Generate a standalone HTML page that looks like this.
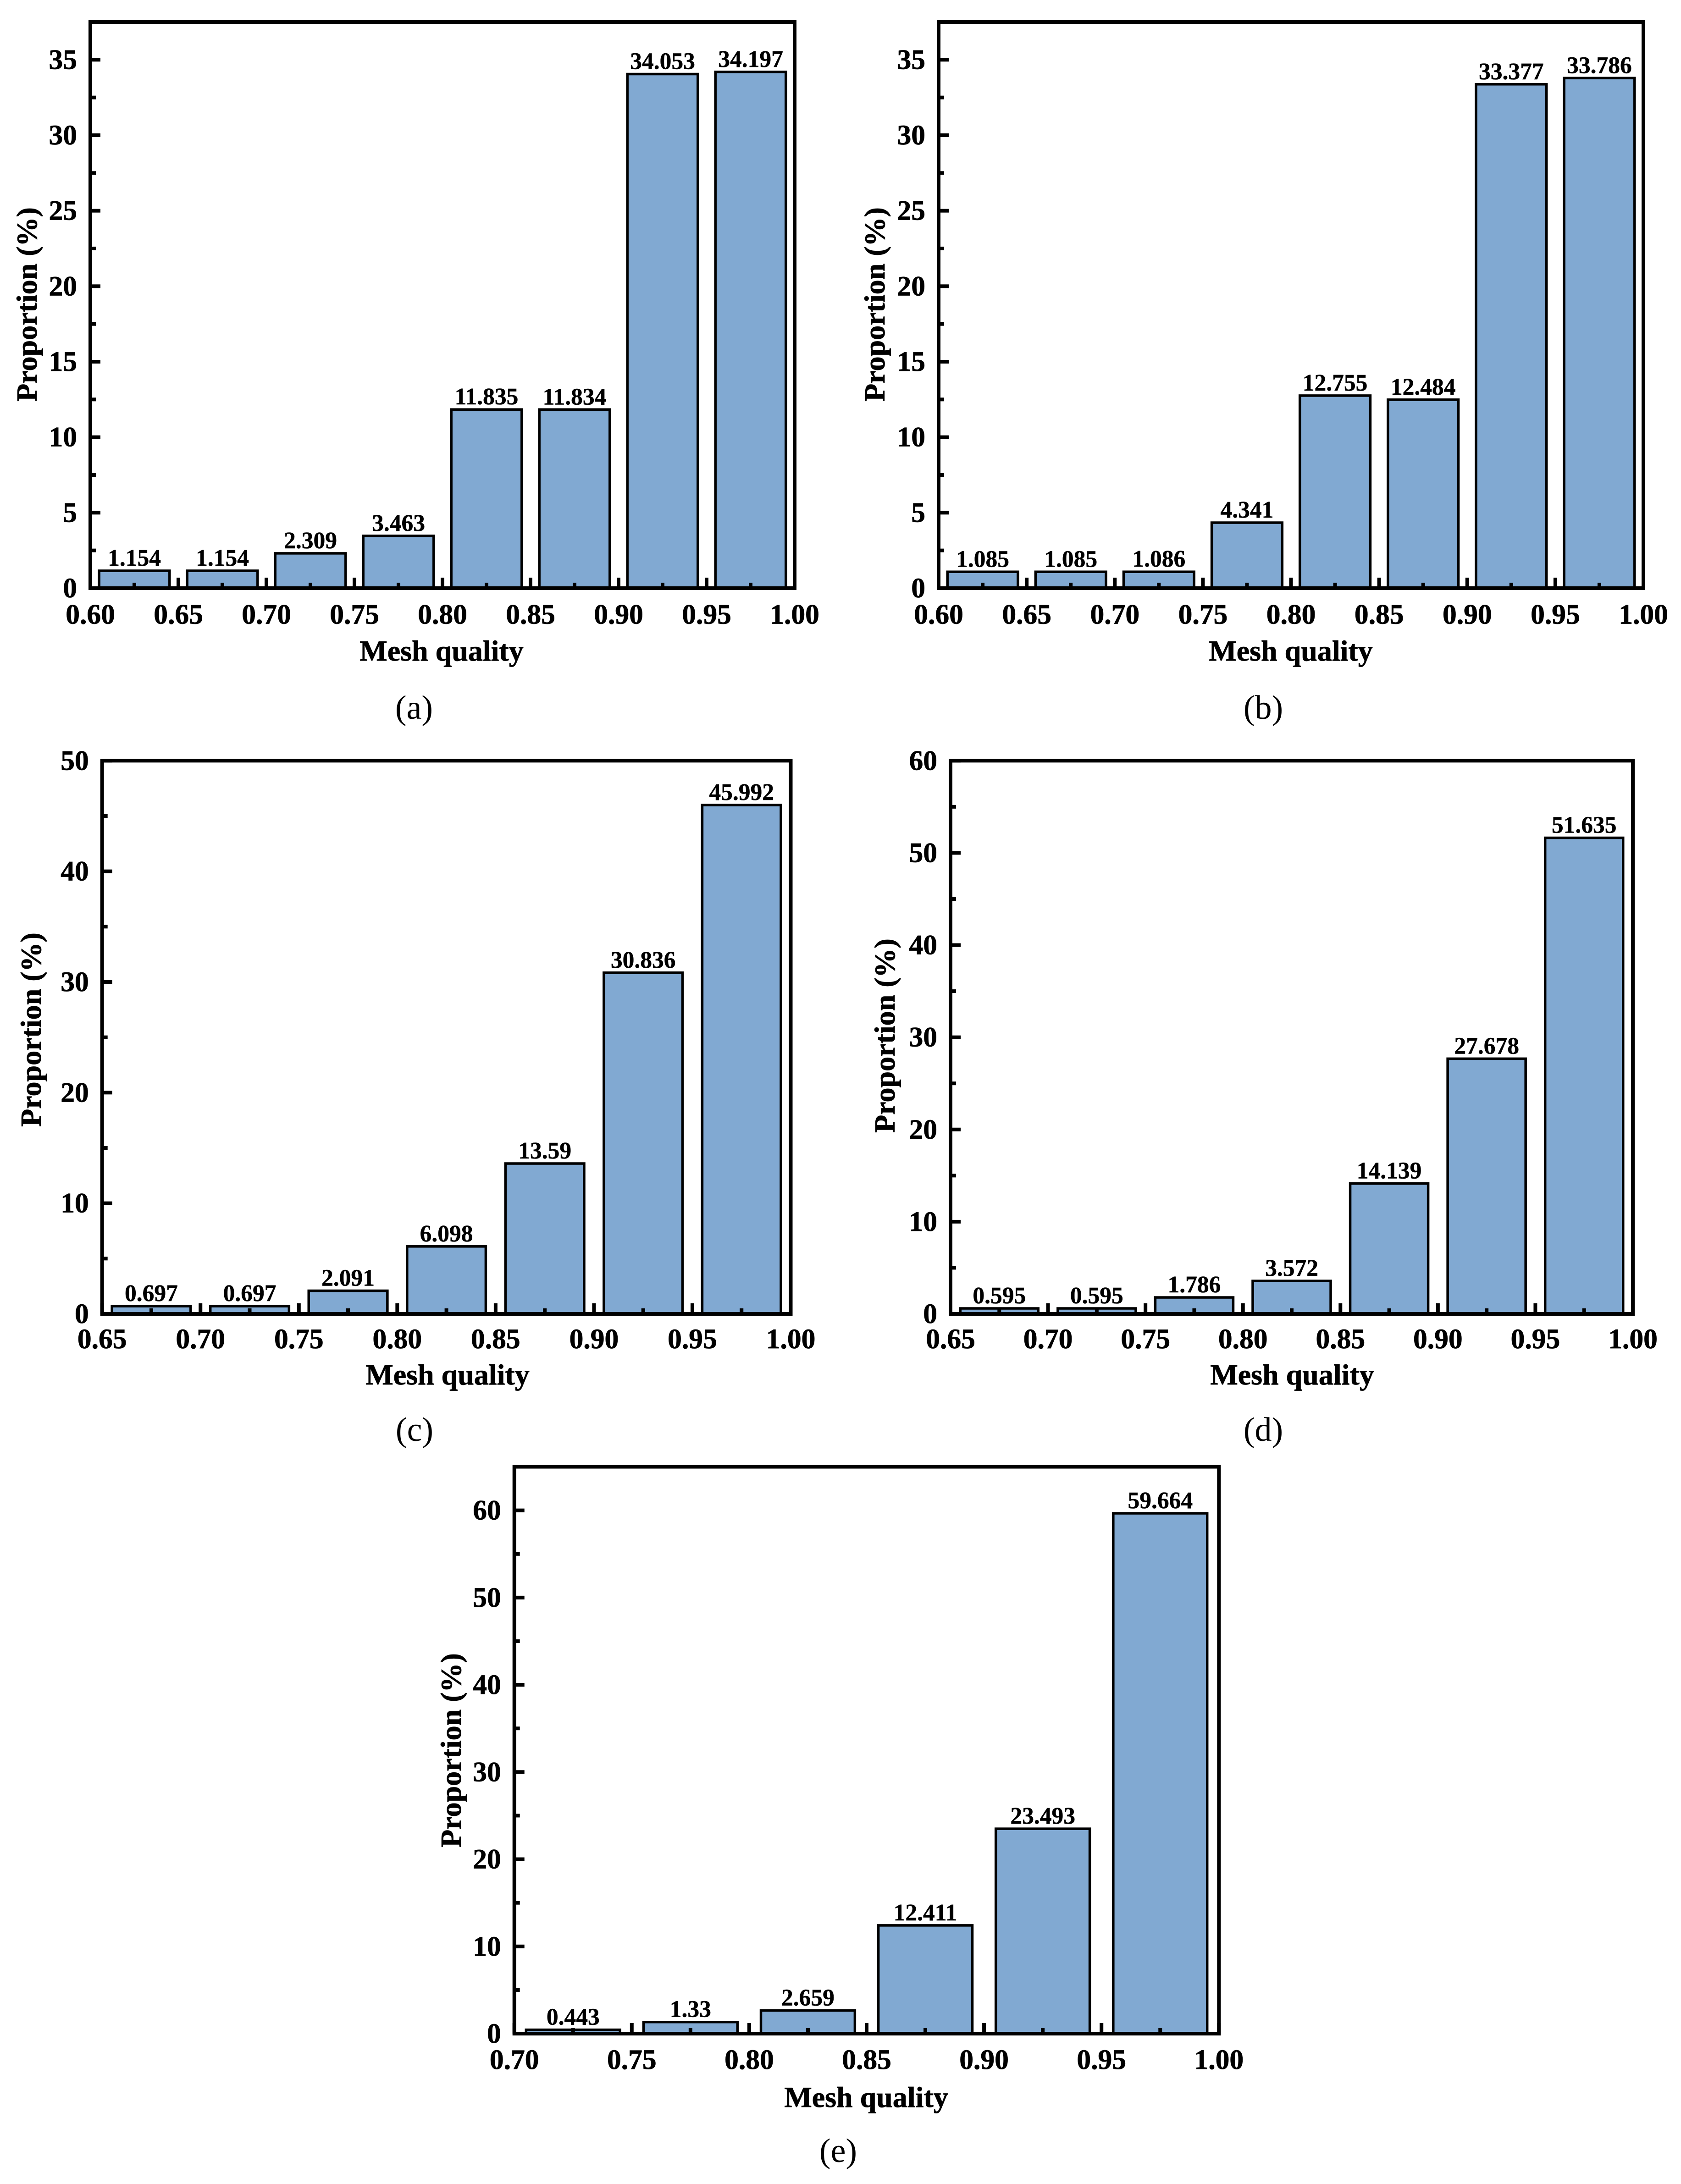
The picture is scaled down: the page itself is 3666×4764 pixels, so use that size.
<!DOCTYPE html>
<html lang="en">
<head>
<meta charset="utf-8">
<title>Mesh quality histograms</title>
<style>
html,body{margin:0;padding:0;background:#fff;}
svg{display:block;}
text{font-family:"Liberation Serif",serif;fill:#000;}
.tick{font-size:61.5px;font-weight:bold;stroke:#000;stroke-width:0.8px;}
.val{font-size:51.5px;font-weight:bold;text-anchor:middle;stroke:#000;stroke-width:0.5px;}
.title{font-size:64px;font-weight:bold;text-anchor:middle;stroke:#000;stroke-width:0.8px;}
.cap{font-size:74px;text-anchor:middle;}
</style>
</head>
<body>
<svg id="figure" xmlns="http://www.w3.org/2000/svg" width="3666" height="4764" viewBox="0 0 3666 4764">
  <rect x="0" y="0" width="3666" height="4764" fill="#ffffff"/>

  <g id="panel-a"></g>
  <text class="title" x="963" y="1441">Mesh quality</text>
  <text class="title" transform="translate(80,664) rotate(-90)">Proportion (%)</text>
  <text class="cap" x="903" y="1568">(a)</text>

  <g id="panel-b"></g>
  <text class="title" x="2815" y="1441">Mesh quality</text>
  <text class="title" transform="translate(1929,664) rotate(-90)">Proportion (%)</text>
  <text class="cap" x="2755" y="1568">(b)</text>

  <g id="panel-c"></g>
  <text class="title" x="976" y="3020">Mesh quality</text>
  <text class="title" transform="translate(89,2246) rotate(-90)">Proportion (%)</text>
  <text class="cap" x="904" y="3143">(c)</text>

  <g id="panel-d"></g>
  <text class="title" x="2818" y="3020">Mesh quality</text>
  <text class="title" transform="translate(1951,2259) rotate(-90)">Proportion (%)</text>
  <text class="cap" x="2755" y="3143">(d)</text>

  <g id="panel-e"></g>
  <text class="title" x="1889" y="4596">Mesh quality</text>
  <text class="title" transform="translate(1005,3818) rotate(-90)">Proportion (%)</text>
  <text class="cap" x="1828" y="4716">(e)</text>
</svg>

<script>
const categoriesA = [0.625, 0.675, 0.725, 0.775, 0.825, 0.875, 0.925, 0.975];
const valuesA = [1.154, 1.154, 2.309, 3.463, 11.835, 11.834, 34.053, 34.197];
const xTickLabelsA = ["0.60", "0.65", "0.70", "0.75", "0.80", "0.85", "0.90", "0.95", "1.00"];
const yTickLabelsA = ["0", "5", "10", "15", "20", "25", "30", "35"];

const categoriesB = [0.625, 0.675, 0.725, 0.775, 0.825, 0.875, 0.925, 0.975];
const valuesB = [1.085, 1.085, 1.086, 4.341, 12.755, 12.484, 33.377, 33.786];
const xTickLabelsB = ["0.60", "0.65", "0.70", "0.75", "0.80", "0.85", "0.90", "0.95", "1.00"];
const yTickLabelsB = ["0", "5", "10", "15", "20", "25", "30", "35"];

const categoriesC = [0.675, 0.725, 0.775, 0.825, 0.875, 0.925, 0.975];
const valuesC = [0.697, 0.697, 2.091, 6.098, 13.59, 30.836, 45.992];
const xTickLabelsC = ["0.65", "0.70", "0.75", "0.80", "0.85", "0.90", "0.95", "1.00"];
const yTickLabelsC = ["0", "10", "20", "30", "40", "50"];

const categoriesD = [0.675, 0.725, 0.775, 0.825, 0.875, 0.925, 0.975];
const valuesD = [0.595, 0.595, 1.786, 3.572, 14.139, 27.678, 51.635];
const xTickLabelsD = ["0.65", "0.70", "0.75", "0.80", "0.85", "0.90", "0.95", "1.00"];
const yTickLabelsD = ["0", "10", "20", "30", "40", "50", "60"];

const categoriesE = [0.725, 0.775, 0.825, 0.875, 0.925, 0.975];
const valuesE = [0.443, 1.33, 2.659, 12.411, 23.493, 59.664];
const xTickLabelsE = ["0.70", "0.75", "0.80", "0.85", "0.90", "0.95", "1.00"];
const yTickLabelsE = ["0", "10", "20", "30", "40", "50", "60"];

const BIN_WIDTH = 0.04;
const BAR_FILL = "#81a9d2";
const SVG_NS = "http://www.w3.org/2000/svg";

function make(tag, props, parent) {
  const node = document.createElementNS(SVG_NS, tag);
  for (const key in props) node.setAttribute(key, props[key]);
  parent.appendChild(node);
  return node;
}

function drawPanel(id, cfg, categories, values, xLabels, yLabels) {
  const root = document.getElementById("panel-" + id);
  const xScale = v => cfg.left + (v - cfg.xMin) / (cfg.xMax - cfg.xMin) * (cfg.right - cfg.left);
  const yScale = v => cfg.bottom - (v - 0) / cfg.yMax * (cfg.bottom - cfg.top);

  categories.forEach((c, i) => {
    const x0 = xScale(c - BIN_WIDTH / 2);
    const x1 = xScale(c + BIN_WIDTH / 2);
    const yTop = yScale(values[i]);
    const bar = make("rect", {x: x0, y: yTop, width: x1 - x0, height: yScale(0) - yTop, fill: BAR_FILL, stroke: "#000", "stroke-width": 5.5}, root);
    
    
    const label = make("text", {class: "val", x: (x0 + x1) / 2, y: yTop - 11}, root);
    label.textContent = String(values[i]);
    
    
  });

  const frame = make("rect", {x: cfg.left, y: cfg.top, width: cfg.right - cfg.left, height: cfg.bottom - cfg.top, fill: "none", stroke: "#000", "stroke-width": 8}, root);
  
  

  const xNums = xLabels.map(Number);
  xLabels.forEach((t, i) => {
    const px = xScale(xNums[i]);
    const tick = make("rect", {x: px - 4, y: cfg.bottom - 23, width: 8, height: 23, fill: "#000"}, root);
    
    
    const label = make("text", {class: "tick", x: px, y: cfg.bottom + cfg.xLabelGap, "text-anchor": "middle"}, root);
    label.textContent = t;
    
    
    if (i + 1 < xNums.length) {
      const mid = xScale((xNums[i] + xNums[i + 1]) / 2);
      const minor = make("rect", {x: mid - 4, y: cfg.bottom - 12, width: 8, height: 12, fill: "#000"}, root);
      
      
    }
  });

  const yNums = yLabels.map(Number);
  yLabels.forEach((t, i) => {
    const py = yScale(yNums[i]);
    const tick = make("rect", {x: cfg.left, y: py - 4, width: 22, height: 8, fill: "#000"}, root);
    
    
    const label = make("text", {class: "tick", x: cfg.left - 29, y: py + 20, "text-anchor": "end"}, root);
    label.textContent = t;
    
    
    if (i + 1 < yNums.length) {
      const mid = yScale((yNums[i] + yNums[i + 1]) / 2);
      const minor = make("rect", {x: cfg.left, y: mid - 4, width: 12, height: 8, fill: "#000"}, root);
      
      
    }
  });
}

drawPanel("a", {left: 197, right: 1733, top: 48, bottom: 1283, xMin: 0.6, xMax: 1, yMax: 37.5, xLabelGap: 77.5}, categoriesA, valuesA, xTickLabelsA, yTickLabelsA);
drawPanel("b", {left: 2047, right: 3584, top: 48, bottom: 1283, xMin: 0.6, xMax: 1, yMax: 37.5, xLabelGap: 77.5}, categoriesB, valuesB, xTickLabelsB, yTickLabelsB);
drawPanel("c", {left: 222.7, right: 1724.5, top: 1659.3, bottom: 2866, xMin: 0.65, xMax: 1, yMax: 50, xLabelGap: 75}, categoriesC, valuesC, xTickLabelsC, yTickLabelsC);
drawPanel("d", {left: 2073, right: 3561, top: 1659.3, bottom: 2866, xMin: 0.65, xMax: 1, yMax: 60, xLabelGap: 75}, categoriesD, valuesD, xTickLabelsD, yTickLabelsD);
drawPanel("e", {left: 1121.7, right: 2658.3, top: 3199.5, bottom: 4436, xMin: 0.7, xMax: 1, yMax: 65, xLabelGap: 77}, categoriesE, valuesE, xTickLabelsE, yTickLabelsE);
</script>
</body>
</html>
